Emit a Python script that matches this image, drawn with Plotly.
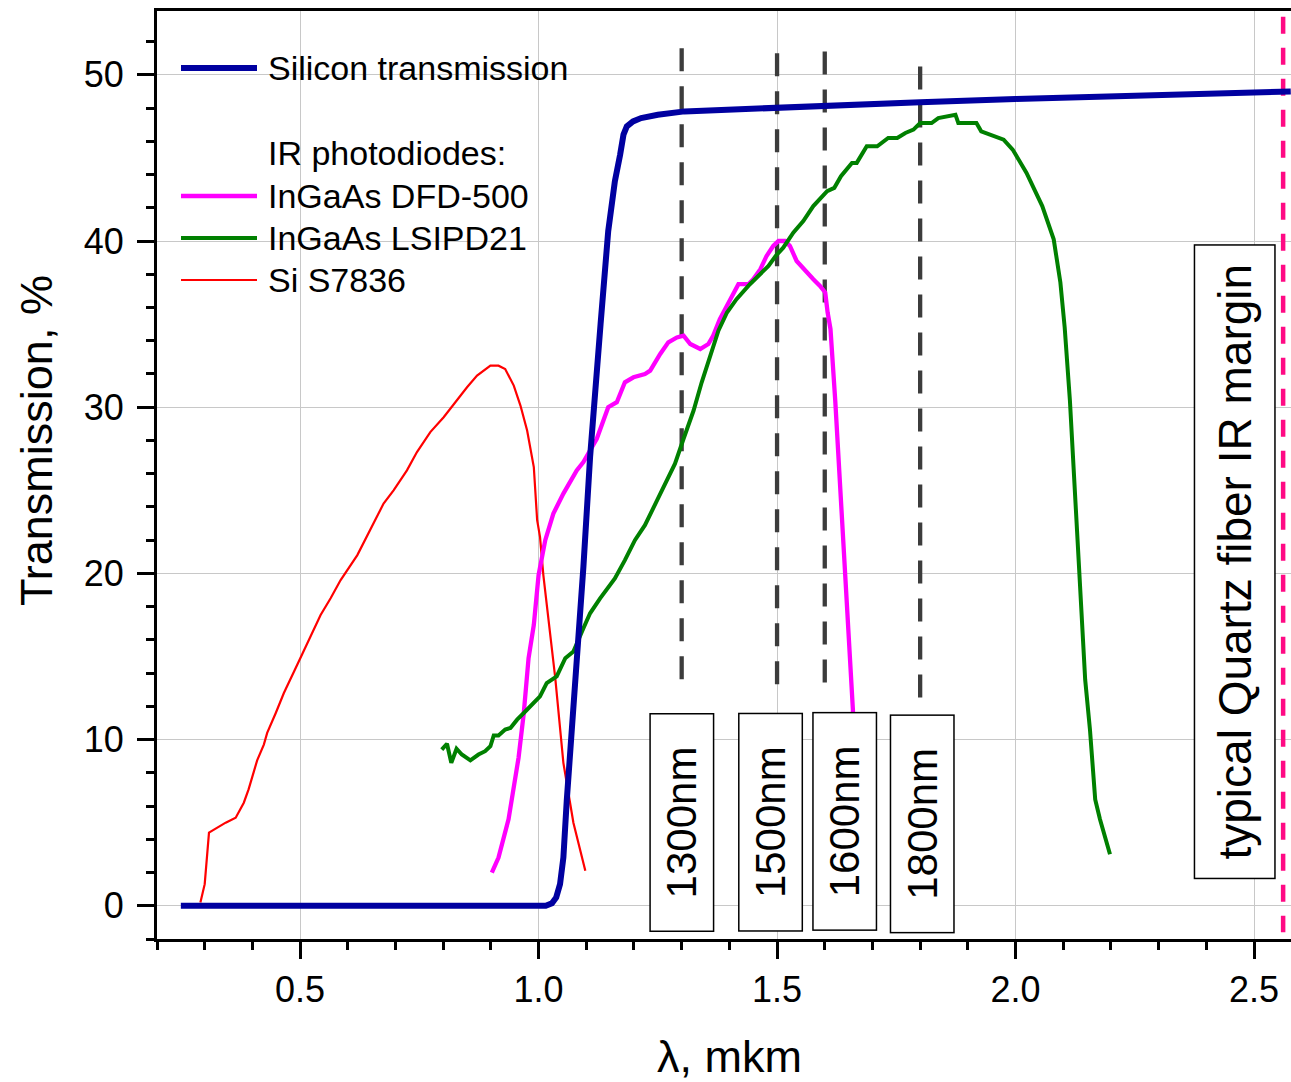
import plotly.graph_objects as go

# ---- spectra: (wavelength, um ; transmission / sensitivity, %) ----
silicon = [
    (0.25, 0), (1.015, 0), (1.028, 0.15), (1.037, 0.5), (1.045, 1.3), (1.052, 2.9),
    (1.059, 6.3), (1.070, 10.5), (1.080, 14.9), (1.094, 20.4), (1.108, 27.0),
    (1.122, 32.5), (1.130, 35.0), (1.146, 40.6), (1.160, 43.6), (1.171, 45.2),
    (1.178, 46.4), (1.185, 46.9), (1.198, 47.2), (1.215, 47.4), (1.250, 47.6),
    (1.306, 47.8), (1.40, 47.92), (1.50, 48.05), (1.65, 48.2), (1.80, 48.35),
    (2.00, 48.55), (2.25, 48.75), (2.50, 48.95), (2.577, 49.0),
]

dfd500 = [
    (0.902, 2.0), (0.916, 2.9), (0.937, 5.2), (0.948, 7.0), (0.958, 8.9), (0.969, 11.6),
    (0.979, 14.9), (0.990, 16.9), (1.000, 19.9), (1.014, 22.0), (1.031, 23.6),
    (1.052, 24.8), (1.080, 26.2), (1.094, 26.7), (1.108, 27.4), (1.122, 28.1),
    (1.146, 30.0), (1.164, 30.3), (1.181, 31.5), (1.199, 31.8), (1.223, 32.0),
    (1.234, 32.2), (1.255, 33.2), (1.272, 33.9), (1.290, 34.2), (1.304, 34.3),
    (1.318, 33.8), (1.339, 33.5), (1.356, 33.8), (1.366, 34.3), (1.380, 35.3),
    (1.401, 36.4), (1.419, 37.4), (1.440, 37.4), (1.450, 37.7), (1.465, 38.3),
    (1.478, 39.1), (1.492, 39.7), (1.503, 40.0), (1.517, 40.0), (1.527, 39.7),
    (1.541, 38.8), (1.562, 38.1), (1.576, 37.7), (1.590, 37.3), (1.601, 36.9),
    (1.606, 35.7), (1.612, 34.7), (1.622, 30.4), (1.632, 25.6), (1.645, 19.0),
    (1.653, 15.4), (1.659, 11.8), (1.664, 6.0),
]

lsipd21 = [
    (0.797, 9.4), (0.808, 9.75), (0.817, 8.6), (0.828, 9.45), (0.839, 9.1), (0.857, 8.75),
    (0.874, 9.1), (0.888, 9.3), (0.899, 9.6), (0.906, 10.25), (0.916, 10.25),
    (0.930, 10.6), (0.941, 10.7), (0.955, 11.2), (0.969, 11.6), (0.986, 12.1),
    (1.003, 12.6), (1.017, 13.4), (1.038, 13.8), (1.056, 14.9), (1.073, 15.3),
    (1.094, 16.7), (1.108, 17.6), (1.129, 18.5), (1.160, 19.7), (1.181, 20.8),
    (1.202, 22.0), (1.223, 22.9), (1.244, 24.1), (1.265, 25.4), (1.286, 26.6),
    (1.304, 28.1), (1.325, 29.8), (1.342, 31.5), (1.359, 33.1), (1.377, 34.6),
    (1.395, 35.7), (1.415, 36.5), (1.443, 37.4), (1.465, 38.0), (1.482, 38.5),
    (1.497, 39.1), (1.513, 39.6), (1.534, 40.5), (1.555, 41.2), (1.576, 42.1),
    (1.590, 42.5), (1.605, 43.0), (1.620, 43.2), (1.634, 43.9), (1.657, 44.7),
    (1.667, 44.7), (1.688, 45.7), (1.710, 45.7), (1.733, 46.2), (1.752, 46.2),
    (1.769, 46.5), (1.786, 46.7), (1.800, 47.1), (1.824, 47.1), (1.838, 47.4),
    (1.861, 47.5), (1.874, 47.6), (1.880, 47.1), (1.918, 47.1), (1.928, 46.6),
    (1.947, 46.4), (1.961, 46.2), (1.975, 46.1), (1.994, 45.5), (2.023, 44.1),
    (2.056, 42.1), (2.080, 40.1), (2.094, 37.5), (2.103, 34.8), (2.114, 30.4),
    (2.125, 24.4), (2.135, 19.6), (2.146, 13.6), (2.156, 10.6), (2.167, 6.4),
    (2.177, 5.2), (2.188, 4.0), (2.198, 3.1),
]

s7836 = [
    (0.291, 0.2), (0.300, 1.3), (0.309, 4.4), (0.326, 4.7), (0.344, 5.0), (0.365, 5.3),
    (0.382, 6.2), (0.392, 7.0), (0.410, 8.75), (0.424, 9.7), (0.431, 10.4),
    (0.449, 11.6), (0.466, 12.8), (0.494, 14.5), (0.515, 15.8), (0.543, 17.5),
    (0.564, 18.5), (0.585, 19.6), (0.620, 21.1), (0.647, 22.6), (0.675, 24.2),
    (0.696, 25.0), (0.724, 26.2), (0.745, 27.3), (0.773, 28.5), (0.801, 29.4),
    (0.822, 30.2), (0.850, 31.2), (0.871, 31.9), (0.899, 32.5), (0.916, 32.5),
    (0.930, 32.3), (0.948, 31.3), (0.962, 30.1), (0.976, 28.6), (0.990, 26.4),
    (0.997, 23.2), (1.003, 22.2), (1.010, 19.9), (1.024, 16.5), (1.035, 13.7),
    (1.052, 8.6), (1.073, 5.0), (1.098, 2.1),
]

# telecom wavelength markers
marker_nm = [1300, 1500, 1600, 1800]
marker_top = [51.6, 51.3, 51.4, 50.5]
marker_bottom = [13.0, 13.0, 13.1, 11.9]
label_box_x = [1.300, 1.486, 1.6415, 1.804]
label_box_y = [5.02, 5.02, 5.08, 4.90]

quartz_margin_um = 2.561
quartz_label = "typical Quartz fiber IR margin"

x_title = "λ, mkm"
y_title = "Transmission, %"

FONT = "Liberation Sans, Arial, sans-serif"
W, H = 1291, 1082
M_L, M_R, M_T, M_B = 157, 0, 11, 143
PW, PH = W - M_L - M_R, H - M_T - M_B


def px_x(px):
    return (px - M_L) / PW


def px_y(py):
    return (H - M_B - py) / PH


def split(pairs):
    return [p[0] for p in pairs], [p[1] for p in pairs]


fig = go.Figure()

# wavelength marker lines (behind the curves)
for nm, top, bot in zip(marker_nm, marker_top, marker_bottom):
    fig.add_trace(go.Scatter(
        x=[nm / 1000, nm / 1000], y=[top, bot], mode="lines",
        line=dict(color="#3c3c3c", width=4.3, dash="23px,15px"),
        showlegend=False, hoverinfo="skip"))

fig.add_trace(go.Scatter(
    x=[quartz_margin_um, quartz_margin_um], y=[53.5, -1.6], mode="lines",
    line=dict(color="#ff0a84", width=4.5, dash="17px,14px"),
    showlegend=False, hoverinfo="skip"))

series = [
    ("Si S7836", s7836, "#ff0000", 2.2),
    ("InGaAs DFD-500", dfd500, "#ff00ff", 4.3),
    ("InGaAs LSIPD21", lsipd21, "#008000", 4.0),
    ("Silicon transmission", silicon, "#0000a0", 6.0),
]
for name, pairs, color, width in series:
    xs, ys = split(pairs)
    fig.add_trace(go.Scatter(x=xs, y=ys, mode="lines", name=name,
                             line=dict(color=color, width=width),
                             showlegend=False))

annotations = []
shapes = []

# legend block
legend_rows = [
    (68, "Silicon transmission", "#0000a0", 6.0),
    (153, "IR photodiodes:", None, 0),
    (196, "InGaAs DFD-500", "#ff00ff", 4.3),
    (238, "InGaAs LSIPD21", "#008000", 4.0),
    (280, "Si S7836", "#ff0000", 2.2),
]
for py, text, color, width in legend_rows:
    annotations.append(dict(
        x=px_x(266), y=px_y(py), xref="paper", yref="paper", text=text,
        showarrow=False, xanchor="left", yanchor="middle",
        font=dict(family=FONT, size=34, color="black")))
    if color:
        shapes.append(dict(
            type="line", xref="paper", yref="paper",
            x0=px_x(181), x1=px_x(257), y0=px_y(py), y1=px_y(py),
            line=dict(color=color, width=width)))

# boxed wavelength labels
for nm, bx, by in zip(marker_nm, label_box_x, label_box_y):
    annotations.append(dict(
        x=bx, y=by, xref="x", yref="y", text=f"{nm}nm", textangle=-90,
        showarrow=False, xanchor="center", yanchor="middle",
        width=216, height=62, borderpad=0, borderwidth=1.5,
        bordercolor="black", bgcolor="white",
        font=dict(family=FONT, size=42, color="black")))

annotations.append(dict(
    x=2.460, y=20.73, xref="x", yref="y", text=quartz_label, textangle=-90,
    showarrow=False, xanchor="center", yanchor="middle",
    width=632, height=79, borderpad=0, borderwidth=1.5,
    bordercolor="black", bgcolor="white",
    font=dict(family=FONT, size=46, color="black")))

# axis titles
annotations.append(dict(
    x=px_x(36), y=px_y(441), xref="paper", yref="paper", text=y_title,
    textangle=-90, showarrow=False, xanchor="center", yanchor="middle",
    font=dict(family=FONT, size=45, color="black")))
annotations.append(dict(
    x=px_x(729), y=px_y(1056), xref="paper", yref="paper", text=x_title,
    showarrow=False, xanchor="center", yanchor="middle",
    font=dict(family=FONT, size=45, color="black")))

fig.update_layout(
    width=W, height=H,
    margin=dict(l=M_L, r=M_R, t=M_T, b=M_B, pad=0),
    paper_bgcolor="white", plot_bgcolor="white",
    font=dict(family=FONT, color="black"),
    showlegend=False,
    annotations=annotations, shapes=shapes,
)

fig.update_xaxes(
    range=[0.2, 2.5775], dtick=0.5, tick0=0, tickformat=".1f",
    showline=True, linewidth=3, linecolor="black", mirror=True,
    ticks="outside", ticklen=17, tickwidth=3, tickcolor="black",
    tickfont=dict(family=FONT, size=36, color="black"),
    showgrid=True, gridcolor="#c8c8c8", gridwidth=1.3, zeroline=False,
    minor=dict(dtick=0.1, tick0=0, ticks="outside", ticklen=8, tickwidth=3,
               tickcolor="black", showgrid=False),
)
fig.update_yaxes(
    range=[-2, 53.84], dtick=10, tick0=0,
    showline=True, linewidth=3, linecolor="black", mirror=False,
    ticks="outside", ticklen=17, tickwidth=3, tickcolor="black",
    tickfont=dict(family=FONT, size=36, color="black"),
    ticklabelstandoff=6,
    showgrid=True, gridcolor="#c8c8c8", gridwidth=1.3, zeroline=False,
    minor=dict(dtick=2, tick0=0, ticks="outside", ticklen=8, tickwidth=3,
               tickcolor="black", showgrid=False),
)

fig.write_html("out.html")
